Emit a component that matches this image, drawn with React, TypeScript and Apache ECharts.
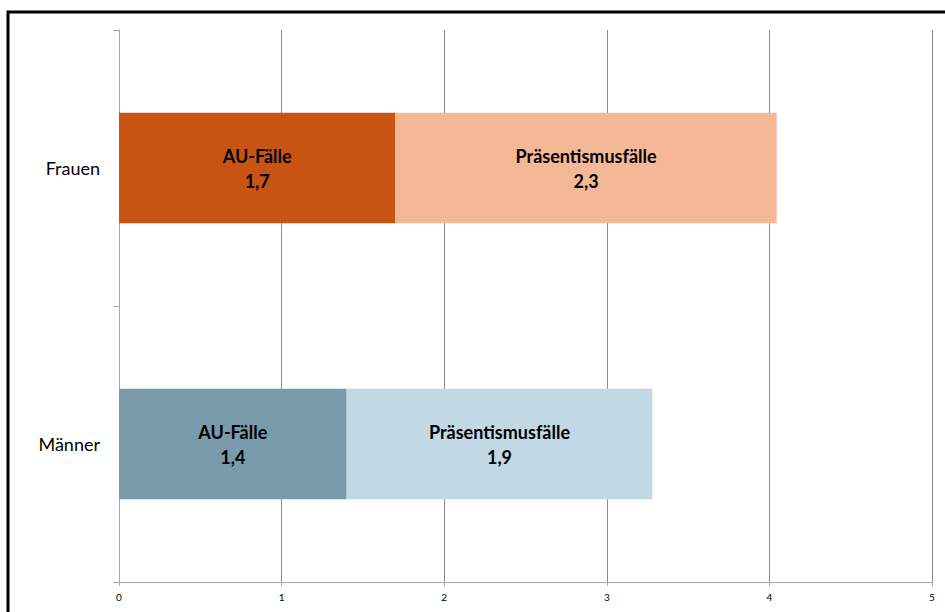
import React, { useEffect, useRef } from "react";
import * as echarts from "echarts";

const categories = ["Männer", "Frauen"];
const auValues = [1.4, 1.7];
const praesValues = [1.88, 2.345];
const auNames = ["AU-Fälle", "AU-Fälle"];
const praesNames = ["Präsentismusfälle", "Präsentismusfälle"];
const auColors = ["#7A9BAA", "#C85414"];
const praesColors = ["#C1D9E5", "#F4B896"];
const xTicks = [0, 1, 2, 3, 4, 5];

const fmt = (v: number) => v.toFixed(1).replace(".", ",");

export default function App() {
  const ref = useRef<HTMLDivElement>(null);
  useEffect(() => {
    if (!ref.current) return;
    const chart = echarts.init(ref.current, null, { renderer: "svg" });
    const labelStyle = {
      show: true,
      position: "inside" as const,
      color: "#000",
      fontWeight: "bold" as const,
      fontSize: 18,
      lineHeight: 25,
      fontFamily: "Lato, 'Liberation Sans', sans-serif",
    };
    chart.setOption({
      animation: false,
      backgroundColor: "#fff",
      grid: { left: 119, right: 13, top: 30, bottom: 30, containLabel: false },
      xAxis: {
        type: "value",
        min: xTicks[0],
        max: xTicks[xTicks.length - 1],
        interval: 1,
        axisLine: { show: true, lineStyle: { color: "#A6A6A6", width: 1 } },
        axisTick: { show: true, length: 4, lineStyle: { color: "#A6A6A6" } },
        axisLabel: {
          fontSize: 10,
          color: "#000",
          margin: 10,
          fontFamily: "Lato, 'Liberation Sans', sans-serif",
        },
        splitLine: { show: true, lineStyle: { color: "#8C8C8C", width: 1 } },
      },
      yAxis: {
        type: "category",
        data: categories,
        axisLine: { show: true, lineStyle: { color: "#A6A6A6", width: 1 } },
        axisTick: { show: true, length: 6, inside: false, lineStyle: { color: "#A6A6A6" } },
        axisLabel: {
          fontSize: 18,
          color: "#000",
          margin: 19,
          fontFamily: "Lato, 'Liberation Sans', sans-serif",
        },
        splitLine: { show: false },
      },
      graphic: [
        {
          type: "rect",
          shape: { x: 8, y: 12, width: 970, height: 640 },
          style: { fill: "none", stroke: "#000", lineWidth: 3 },
          z: 100,
        },
      ],
      series: [
        {
          type: "bar",
          stack: "total",
          barWidth: "40%",
          data: auValues.map((v, i) => ({
            value: v,
            itemStyle: { color: auColors[i] },
            label: { ...labelStyle, formatter: () => `${auNames[i]}\n${fmt(v)}` },
          })),
        },
        {
          type: "bar",
          stack: "total",
          barWidth: "40%",
          data: praesValues.map((v, i) => ({
            value: v,
            itemStyle: { color: praesColors[i] },
            label: { ...labelStyle, formatter: () => `${praesNames[i]}\n${fmt(v)}` },
          })),
        },
      ],
    });
    return () => chart.dispose();
  }, []);
  return (
    <div
      ref={ref}
      style={{ position: "fixed", left: 0, top: 0, width: 945, height: 612 }}
    />
  );
}
